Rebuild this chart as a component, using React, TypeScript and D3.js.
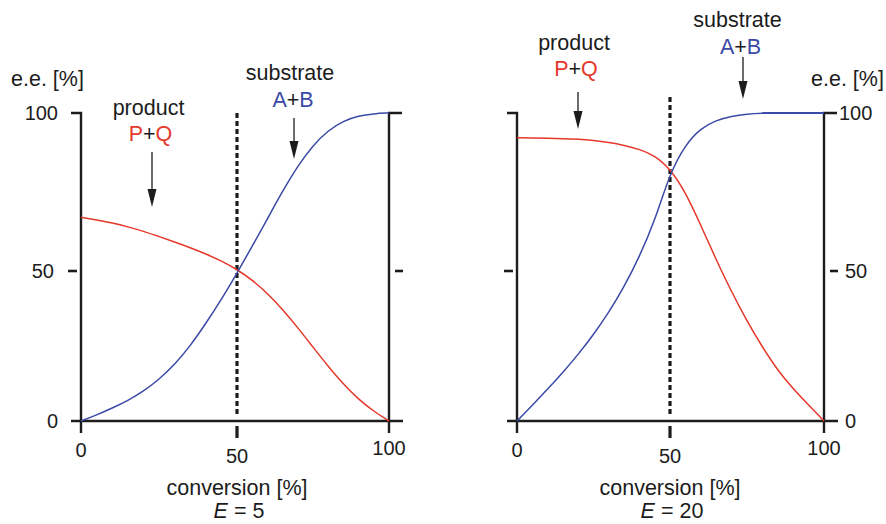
import React from 'react';
import * as d3 from 'd3';

// conversion [%] sampled every 5 %
const conversion = [0, 5, 10, 15, 20, 25, 30, 35, 40, 45, 50, 55, 60, 65, 70, 75, 80, 85, 90, 95, 100];

// e.e. [%], E = 5
const productE5 = [67, 66.2, 65.2, 64, 62.6, 60.9, 59.2, 57.4, 55.4, 53.2, 50.5, 47, 42.6, 37.2, 31.1, 24.6, 18.2, 12.3, 7.2, 3.2, 0];
const substrateE5 = [0, 2, 4.3, 6.8, 9.9, 13.8, 18.8, 25, 32.5, 40.5, 49.3, 57.8, 66.5, 75.3, 83.3, 89.8, 94.5, 97.5, 99.1, 99.8, 100];

// e.e. [%], E = 20
const productE20 = [92.2, 92.1, 92, 91.9, 91.7, 91.3, 90.7, 89.8, 88.5, 86.6, 82.4, 75, 64.5, 53.5, 43, 33.3, 24.6, 16.8, 10.7, 5.3, 0];
const substrateE20 = [0, 5.2, 10.6, 16.2, 22.2, 28.8, 36.2, 44.7, 54.5, 65.8, 81, 90, 95.2, 97.7, 99, 99.7, 100, 100, 100, 100, 100];

const xTicks = [0, 50, 100];
const yTicks = [0, 50, 100];
const eValues = [5, 20];

const RED = '#e5382b';
const BLUE = '#3a4aa6';
const INK = '#1c1c1c';
const FONT = '"Liberation Sans", Arial, Helvetica, sans-serif';

const W = 886;
const H = 524;

// y is shared by both panels
const y = d3.scaleLinear().domain([0, 50, 100]).range([421, 271, 113]);

interface PanelProps {
  range: [number, number, number];
  side: 'left' | 'right';
  product: number[];
  substrate: number[];
  E: number;
  dashTop: number;
  productLabel: { x: number; y: number; arrowX: number; a0: number; a1: number };
  substrateLabel: { x: number; y: number; arrowX: number; a0: number; a1: number };
  eeX: number;
}

const Arrow = ({ x, y0, y1 }: { x: number; y0: number; y1: number }) => {
  const head = 18;
  const hw = 4.5;
  return (
    <g>
      <line x1={x} y1={y0} x2={x} y2={y1 - head + 2} stroke={INK} strokeWidth={1.3} />
      <path d={`M${x - hw},${y1 - head} L${x + hw},${y1 - head} L${x},${y1} Z`} fill={INK} />
    </g>
  );
};

const Panel = (p: PanelProps) => {
  const x = d3.scaleLinear().domain([0, 50, 100]).range(p.range);
  const [x0, xm, x1] = p.range;
  const y0 = y(0);
  const line = d3
    .line<number>()
    .x((_, i) => x(conversion[i]))
    .y((d) => y(d))
    .curve(d3.curveBasis);

  const flatTop = conversion.map((c, i) => [c, p.substrate[i]]).filter((d) => d[1] >= 100);

  return (
    <g>
      {/* axes frame */}
      <line x1={x0 - 10} x2={x1 + 14} y1={y0} y2={y0} stroke={INK} strokeWidth={2.6} />
      <path d={`M${x0 - 10},${y(100)} H${x0} V${y0 + 12}`} fill="none" stroke={INK} strokeWidth={2.4} />
      <path d={`M${x1 + 13},${y(100)} H${x1} V${y0 + 12}`} fill="none" stroke={INK} strokeWidth={2.4} />
      <line x1={x0 - 13} x2={x0 - 4} y1={y(50)} y2={y(50)} stroke={INK} strokeWidth={2.6} />
      <line x1={x1 + 6} x2={x1 + 14} y1={y(50)} y2={y(50)} stroke={INK} strokeWidth={2.6} />

      {/* 50 % conversion marker */}
      <line x1={xm} x2={xm} y1={p.dashTop} y2={y0 - 6} stroke={INK} strokeWidth={3.2} strokeDasharray="5 3" />
      <line x1={xm} x2={xm} y1={y0 + 5} y2={y0 + 17} stroke={INK} strokeWidth={3.2} />

      {/* y tick labels */}
      {yTicks.map((t) => {
        const left = p.side === 'left';
        const off = t === 50 ? 27 : 23;
        const tx = left ? x0 - off : x1 + (t === 100 ? 15 : 21);
        return (
          <text key={t} x={tx} y={y(t) + 7} textAnchor={left ? 'end' : 'start'} fontSize={20} fill={INK}>
            {t}
          </text>
        );
      })}

      {/* x tick labels */}
      {xTicks.map((t) => (
        <text key={t} x={x(t)} y={y0 + (t === 50 ? 42 : t === 100 ? 34 : 36)} textAnchor="middle" fontSize={20} fill={INK}>
          {t}
        </text>
      ))}

      {/* curves */}
      <path d={line(p.product) || ''} fill="none" stroke={RED} strokeWidth={1.5} />
      <path d={line(p.substrate) || ''} fill="none" stroke={BLUE} strokeWidth={1.5} />
      {p.side === 'right' && flatTop.length > 1 && (
        <line x1={x(flatTop[0][0])} x2={x(100)} y1={y(100)} y2={y(100)} stroke={BLUE} strokeWidth={2.2} />
      )}

      {/* labels */}
      <text x={p.eeX} y={86} fontSize={21.5} fill={INK}>e.e. [%]</text>

      <text x={p.productLabel.x} y={p.productLabel.y} textAnchor="middle" fontSize={21.5} fill={INK}>product</text>
      <text x={p.productLabel.x + 2} y={p.productLabel.y + 26} textAnchor="middle" fontSize={21.5}>
        <tspan fill={RED}>P</tspan>
        <tspan fill={INK}>+</tspan>
        <tspan fill={RED}>Q</tspan>
      </text>
      <Arrow x={p.productLabel.arrowX} y0={p.productLabel.a0} y1={p.productLabel.a1} />

      <text x={p.substrateLabel.x} y={p.substrateLabel.y} textAnchor="middle" fontSize={21.5} fill={INK}>substrate</text>
      <text x={p.substrateLabel.x + 3} y={p.substrateLabel.y + 27} textAnchor="middle" fontSize={21.5}>
        <tspan fill={BLUE}>A</tspan>
        <tspan fill={INK}>+</tspan>
        <tspan fill={BLUE}>B</tspan>
      </text>
      <Arrow x={p.substrateLabel.arrowX} y0={p.substrateLabel.a0} y1={p.substrateLabel.a1} />

      <text x={xm} y={495} textAnchor="middle" fontSize={21.5} fill={INK}>conversion [%]</text>
      <text x={xm + 2} y={518} textAnchor="middle" fontSize={21.5} fill={INK}>
        <tspan fontStyle="italic">E</tspan> = {p.E}
      </text>
    </g>
  );
};

export default function App() {
  return (
    <svg
      width={W}
      height={H}
      viewBox={`0 0 ${W} ${H}`}
      style={{ position: 'absolute', left: 0, top: 0, background: '#fff', fontFamily: FONT }}
    >
      <Panel
        range={[81, 237, 389]}
        side="left"
        product={productE5}
        substrate={substrateE5}
        E={eValues[0]}
        dashTop={113}
        productLabel={{ x: 148.5, y: 115, arrowX: 152, a0: 152, a1: 207 }}
        substrateLabel={{ x: 290, y: 80, arrowX: 294, a0: 118, a1: 159 }}
        eeX={11}
      />
      <Panel
        range={[517, 670, 824]}
        side="right"
        product={productE20}
        substrate={substrateE20}
        E={eValues[1]}
        dashTop={97}
        productLabel={{ x: 574, y: 50, arrowX: 578, a0: 92, a1: 129 }}
        substrateLabel={{ x: 737.5, y: 27, arrowX: 743, a0: 57, a1: 99 }}
        eeX={811}
      />
    </svg>
  );
}
